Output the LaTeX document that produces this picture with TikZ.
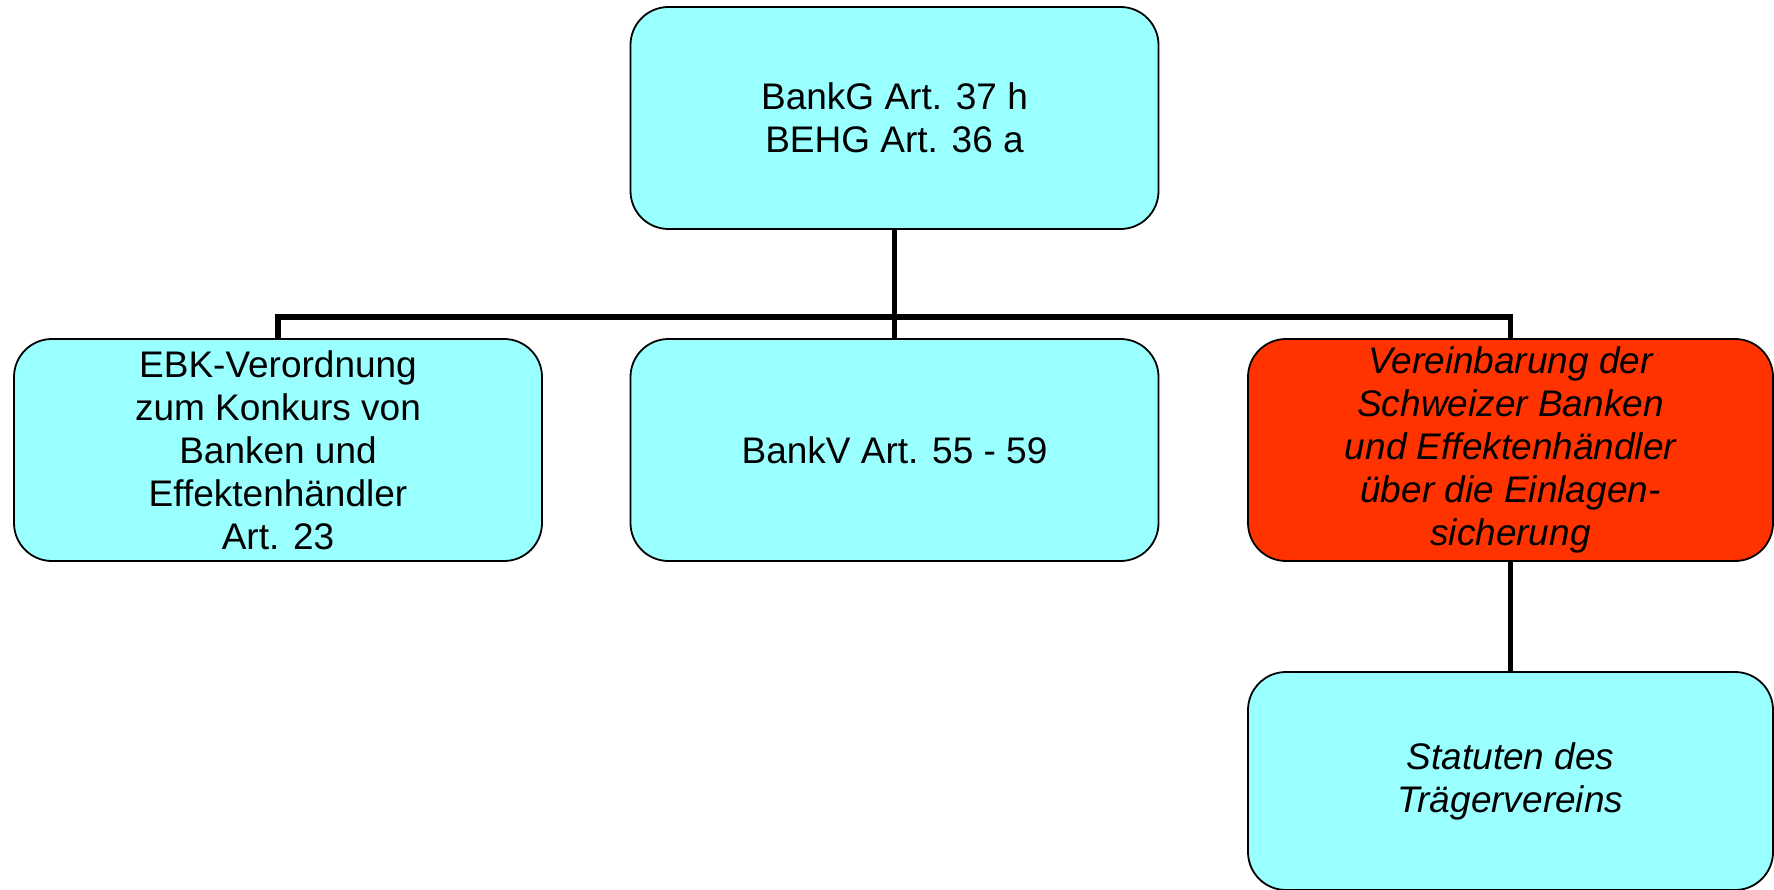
\documentclass[tikz,border=0pt]{standalone}
\usepackage{fontspec}
\setmainfont{Liberation Sans}
\definecolor{boxcyan}{HTML}{99FFFF}
\definecolor{boxred}{HTML}{FF3300}
\begin{document}
\begin{tikzpicture}[x=1pt,y=1pt,
  orgbox/.style={draw=black, line width=1.8pt, rounded corners=38pt,
    fill=boxcyan, minimum width=528pt, minimum height=222pt, inner sep=0pt,
    align=center, font=\fontsize{37}{43}\selectfont},
  conn/.style={line width=5.5pt, draw=black}]
\useasboundingbox (0,0) rectangle (1774,-890);
\fill[white] (0,0) rectangle (1774,-890);
\node[orgbox] (top) at (894.5,-118) {BankG Art. 37 h\\BEHG Art. 36 a};
\node[orgbox] (ebk) at (278,-450) {EBK-Verordnung\\zum Konkurs von\\Banken und\\Effektenhändler\\Art. 23};
\node[orgbox] (bankv) at (894.5,-450) {BankV Art. 55 - 59};
\node[orgbox, fill=boxred, minimum width=525pt, font=\fontsize{37}{43}\selectfont\itshape] (verein) at (1510.5,-450) {Vereinbarung der\\Schweizer Banken\\und Effektenhändler\\über die Einlagen-\\sicherung};
\node[orgbox, minimum width=525pt, minimum height=218pt, font=\fontsize{37}{43}\selectfont\itshape] (stat) at (1510.5,-781) {Statuten des\\Trägervereins};
\coordinate (bus) at (894.5,-317);
\draw[conn] (top.south) -- (bankv.north);
\draw[conn] (ebk.north) |- (bus) -| (verein.north);
\draw[conn] (verein.south) -- (stat.north);
\end{tikzpicture}
\end{document}
